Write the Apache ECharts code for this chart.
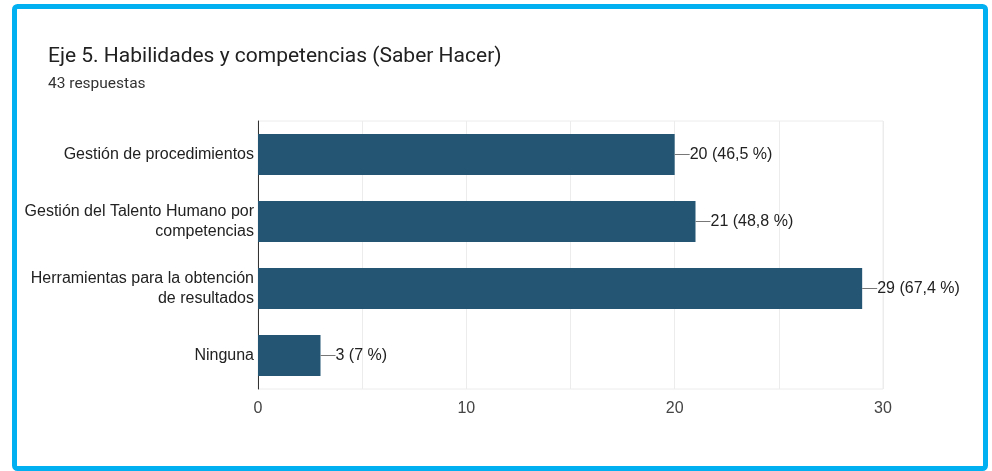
<!DOCTYPE html>
<html>
<head>
<meta charset="utf-8">
<script src="https://cdn.jsdelivr.net/npm/echarts@6/dist/echarts.min.js"></script>
<style>
  html, body { margin: 0; padding: 0; background: #fff; }
  #chart { width: 992px; height: 471px; }
</style>
</head>
<body>
<div id="chart"></div>
<script>
// datos de la encuesta
const categories = [
  'Gestión de procedimientos',
  'Gestión del Talento Humano por\ncompetencias',
  'Herramientas para la obtención\nde resultados',
  'Ninguna'
]
const counts = [20, 21, 29, 3]
const percents = ['46,5', '48,8', '67,4', '7']
const xTicks = [0, 10, 20, 30]

const myChart = echarts.init(document.getElementById('chart'))

let option = {
  animation: false,
  backgroundColor: '#fff',
  textStyle: { fontFamily: 'Liberation Sans, Arial, sans-serif' },
  title: {
    text: 'Eje 5. Habilidades y competencias (Saber Hacer)',
    subtext: '43 respuestas',
    left: 43,
    top: 41,
    itemGap: 9,
    textStyle: { fontFamily: 'Roboto', fontSize: 21, fontWeight: 'normal', color: '#212121' },
    subtextStyle: { fontFamily: 'Roboto', fontSize: 15.5, color: '#333' }
  },
  graphic: [{
    type: 'rect',
    shape: { x: 14.5, y: 6.5, width: 971, height: 462, r: 3 },
    style: { fill: 'none', stroke: '#00b0f0', lineWidth: 5 },
    z: 100
  }],
  grid: {
    left: 258,
    right: 109,
    top: 121,
    bottom: 82,
    show: true,
    borderColor: '#ececec',
    borderWidth: 1
  },
  xAxis: {
    type: 'value',
    min: 0,
    max: 30,
    interval: 5,
    axisLine: { show: false },
    axisTick: { show: false },
    splitLine: { lineStyle: { color: '#ececec' } },
    axisLabel: {
      color: '#444',
      fontSize: 16,
      margin: 12,
      formatter: v => xTicks.indexOf(v) >= 0 ? String(v) : ''
    }
  },
  yAxis: {
    type: 'category',
    inverse: true,
    data: categories,
    axisLine: { lineStyle: { color: '#333', width: 1 } },
    axisTick: { show: false },
    axisLabel: {
      color: '#222',
      fontSize: 16,
      lineHeight: 20,
      margin: 4,
      align: 'right'
    }
  },
  series: [{
    type: 'bar',
    data: counts,
    barWidth: 41,
    itemStyle: { color: '#245674' },
    label: {
      show: true,
      position: 'right',
      distance: 0,
      color: '#222',
      fontSize: 16,
      formatter: p => '{l|}{t|' + counts[p.dataIndex] + ' (' + percents[p.dataIndex] + ' %)}',
      rich: {
        l: { width: 15, height: 1, backgroundColor: '#777', verticalAlign: 'middle' },
        t: { fontSize: 16, color: '#222', verticalAlign: 'middle' }
      }
    }
  }]
}

myChart.setOption(option)
</script>
</body>
</html>
